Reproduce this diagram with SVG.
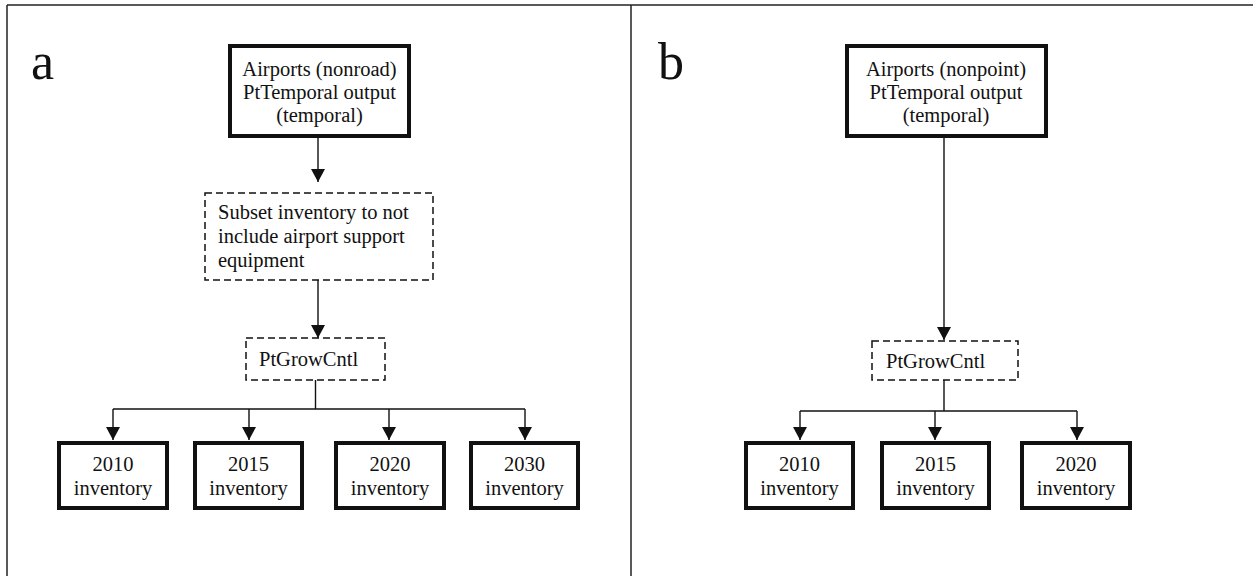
<svg xmlns="http://www.w3.org/2000/svg" width="1253" height="576" viewBox="0 0 1253 576">
<defs>
<marker id="arr" viewBox="0 0 13 14" refX="13" refY="7" markerWidth="13" markerHeight="14" markerUnits="userSpaceOnUse" orient="auto">
<path d="M0,0 L13,7 L0,14 z" fill="#111"/>
</marker>
<style>
text{font-family:"Liberation Serif","Times New Roman",serif;font-size:20.5px;fill:#111}
.c{text-anchor:middle}
.thick{fill:#fff;stroke:#111;stroke-width:4}
.dash{fill:#fff;stroke:#111;stroke-width:1.5;stroke-dasharray:7 4}
.frame{stroke:#222;stroke-width:1.5;fill:none}
.conn line,.conn polyline{stroke:#111;stroke-width:1.4;fill:none}
.lbl{font-size:52px}
</style>
</defs>
<rect width="1253" height="576" fill="#fff"/>
<g id="frame">
<line class="frame" x1="7" y1="5" x2="1253" y2="5"/>
<line class="frame" x1="7" y1="5" x2="7" y2="576"/>
<line class="frame" x1="631" y1="5" x2="631" y2="576"/>
</g>
<text class="lbl" x="31" y="79">a</text>
<text class="lbl" x="658" y="79">b</text>
<g class="conn" id="connectors">
<line x1="318" y1="138" x2="318" y2="182" marker-end="url(#arr)"/>
<line x1="318" y1="280" x2="318" y2="338" marker-end="url(#arr)"/>
<line x1="315.5" y1="380" x2="315.5" y2="409"/>
<line x1="113" y1="409" x2="525" y2="409"/>
<line x1="113" y1="409" x2="113" y2="440" marker-end="url(#arr)"/>
<line x1="249" y1="409" x2="249" y2="440" marker-end="url(#arr)"/>
<line x1="389" y1="409" x2="389" y2="440" marker-end="url(#arr)"/>
<line x1="525" y1="409" x2="525" y2="440" marker-end="url(#arr)"/>
<line x1="944" y1="138" x2="944" y2="340" marker-end="url(#arr)"/>
<line x1="944" y1="380" x2="944" y2="411"/>
<line x1="800" y1="411" x2="1077" y2="411"/>
<line x1="800" y1="411" x2="800" y2="440" marker-end="url(#arr)"/>
<line x1="935" y1="411" x2="935" y2="440" marker-end="url(#arr)"/>
<line x1="1077" y1="411" x2="1077" y2="440" marker-end="url(#arr)"/>
</g>
<g id="a-source">
<rect class="thick" x="230" y="46" width="179" height="90"/>
<text class="c" x="319.5" y="76">Airports (nonroad)</text>
<text class="c" x="319.5" y="99">PtTemporal output</text>
<text class="c" x="319.5" y="122">(temporal)</text>
</g>
<g id="a-subset">
<rect class="dash" x="205" y="193" width="228" height="87"/>
<text x="218" y="219">Subset inventory to not</text>
<text x="218" y="243">include airport support</text>
<text x="218" y="267">equipment</text>
</g>
<g id="a-grow">
<rect class="dash" x="246" y="338" width="139" height="42"/>
<text x="259" y="366">PtGrowCntl</text>
</g>
<g id="a-2010">
<rect class="thick" x="59" y="443" width="108" height="65"/>
<text class="c" x="113" y="471">2010</text>
<text class="c" x="113" y="495">inventory</text>
</g>
<g id="a-2015">
<rect class="thick" x="195" y="443" width="107" height="65"/>
<text class="c" x="248.5" y="471">2015</text>
<text class="c" x="248.5" y="495">inventory</text>
</g>
<g id="a-2020">
<rect class="thick" x="336" y="443" width="108" height="65"/>
<text class="c" x="390" y="471">2020</text>
<text class="c" x="390" y="495">inventory</text>
</g>
<g id="a-2030">
<rect class="thick" x="471" y="443" width="107" height="65"/>
<text class="c" x="524.5" y="471">2030</text>
<text class="c" x="524.5" y="495">inventory</text>
</g>
<g id="b-source">
<rect class="thick" x="847" y="46" width="199" height="90"/>
<text class="c" x="946" y="76">Airports (nonpoint)</text>
<text class="c" x="946" y="99">PtTemporal output</text>
<text class="c" x="946" y="122">(temporal)</text>
</g>
<g id="b-grow">
<rect class="dash" x="872" y="341" width="146" height="39"/>
<text x="886" y="368">PtGrowCntl</text>
</g>
<g id="b-2010">
<rect class="thick" x="746" y="443" width="107" height="65"/>
<text class="c" x="799.5" y="471">2010</text>
<text class="c" x="799.5" y="495">inventory</text>
</g>
<g id="b-2015">
<rect class="thick" x="882" y="443" width="107" height="65"/>
<text class="c" x="935.5" y="471">2015</text>
<text class="c" x="935.5" y="495">inventory</text>
</g>
<g id="b-2020">
<rect class="thick" x="1022" y="443" width="108" height="65"/>
<text class="c" x="1076" y="471">2020</text>
<text class="c" x="1076" y="495">inventory</text>
</g>
</svg>
